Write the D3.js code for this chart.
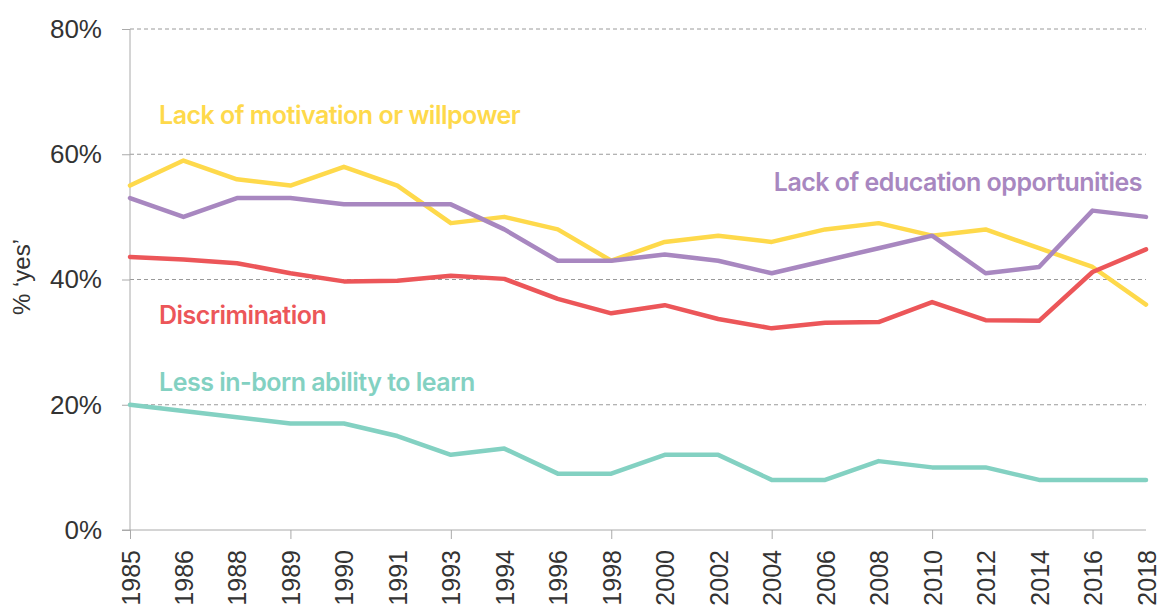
<!DOCTYPE html>
<html>
<head>
<meta charset="utf-8">
<script src="https://d3js.org/d3.v7.min.js"></script>
<style>
  body { margin: 0; background: #fff; }
  .tick text { font-family: "Liberation Sans", Arial, sans-serif; fill: #333; }
</style>
</head>
<body>
<svg id="chart" width="1161" height="614"></svg>
<script>
// survey years (x categories)
var years = ["1985", "1986", "1988", "1989", "1990", "1991", "1993", "1994", "1996", "1998",
             "2000", "2002", "2004", "2006", "2008", "2010", "2012", "2014", "2016", "2018"];

// % saying 'yes' for each reason
var motivation = [55, 59, 56, 55, 58, 55, 49, 50, 48, 43, 46, 47, 46, 48, 49, 47, 48, 45, 42, 36];
var education = [53, 50, 53, 53, 52, 52, 52, 48, 43, 43, 44, 43, 41, 43, 45, 47, 41, 42, 51, 50];
var discrimination = [43.6, 43.2, 42.6, 41.0, 39.7, 39.8, 40.6, 40.1, 36.9, 34.6, 35.9, 33.7, 32.2, 33.1, 33.2, 36.4, 33.5, 33.4, 41.2, 44.8];
var ability = [20, 19, 18, 17, 17, 15, 12, 13, 9, 9, 12, 12, 8, 8, 11, 10, 10, 8, 8, 8];

var yTicks = [0, 20, 40, 60, 80];

var series = [
  { name: "Lack of motivation or willpower", values: motivation, color: "#FED94B" },
  { name: "Lack of education opportunities", values: education, color: "#A887C0" },
  { name: "Discrimination", values: discrimination, color: "#EC5659" },
  { name: "Less in-born ability to learn", values: ability, color: "#83D1C2" }
];

var svg = d3.select("#chart");

var x = d3.scalePoint().domain(years).range([130, 1146]);
var y = d3.scaleLinear().domain([0, 80]).range([530, 29]);

// dashed gridlines
svg.append("g")
  .selectAll("line")
  .data(yTicks.filter(function(d) { return d > 0; }))
  .enter().append("line")
  .attr("x1", 130).attr("x2", 1146)
  .attr("y1", function(d) { return y(d); })
  .attr("y2", function(d) { return y(d); })
  .attr("stroke", "#9a9a9a")
  .attr("stroke-width", 1)
  .attr("stroke-dasharray", "4,3");

// y axis
var yAxis = svg.append("g")
  .attr("transform", "translate(130,0)")
  .call(d3.axisLeft(y).tickValues(yTicks).tickSize(8).tickPadding(20)
    .tickFormat(function(d) { return d + "%"; }));
yAxis.select(".domain").attr("stroke", "#aaa").attr("d", "M0," + y(80) + "V" + y(0));
yAxis.selectAll(".tick line").attr("stroke", "#aaa");
yAxis.selectAll(".tick text").style("font-size", "26px");

// x axis, tick marks every third year
var xAxis = svg.append("g")
  .attr("transform", "translate(0,530)")
  .call(d3.axisBottom(x).tickSize(9));
xAxis.select(".domain").attr("stroke", "#aaa").attr("d", "M122,0H1146");
xAxis.selectAll(".tick line")
  .attr("stroke", "#aaa")
  .attr("y2", function(d, i) { return i % 3 === 0 ? 9 : 0; });
xAxis.selectAll(".tick text")
  .style("font-size", "25px")
  .attr("text-anchor", "end")
  .attr("transform", "rotate(-90)")
  .attr("x", -20)
  .attr("y", 0)
  .attr("dy", "0.36em");

// y axis title
svg.append("text")
  .attr("transform", "translate(30,277) rotate(-90)")
  .attr("text-anchor", "middle")
  .style("font-family", "Liberation Sans, Arial, sans-serif")
  .style("font-size", "24px")
  .attr("fill", "#333")
  .text("% \u2018yes\u2019");

// lines
var line = d3.line()
  .x(function(d, i) { return x(years[i]); })
  .y(function(d) { return y(d); });

svg.append("g")
  .selectAll("path")
  .data(series)
  .enter().append("path")
  .attr("d", function(s) { return line(s.values); })
  .attr("fill", "none")
  .attr("stroke", function(s) { return s.color; })
  .attr("stroke-width", 4.5)
  .attr("stroke-linejoin", "round")
  .attr("stroke-linecap", "round");

// direct labels
var labelPos = [
  { x: 159, y: 124, anchor: "start" },
  { x: 1142, y: 191, anchor: "end" },
  { x: 159, y: 324, anchor: "start" },
  { x: 159, y: 391, anchor: "start" }
];

svg.append("g")
  .selectAll("text")
  .data(series)
  .enter().append("text")
  .attr("x", function(s, i) { return labelPos[i].x; })
  .attr("y", function(s, i) { return labelPos[i].y; })
  .attr("text-anchor", function(s, i) { return labelPos[i].anchor; })
  .attr("fill", function(s) { return s.color; })
  .style("font-family", "Inter, 'Open Sans', sans-serif")
  .style("font-weight", 600)
  .style("font-size", "25px")
  .style("letter-spacing", "-0.5px")
  .text(function(s) { return s.name; });
</script>
</body>
</html>
